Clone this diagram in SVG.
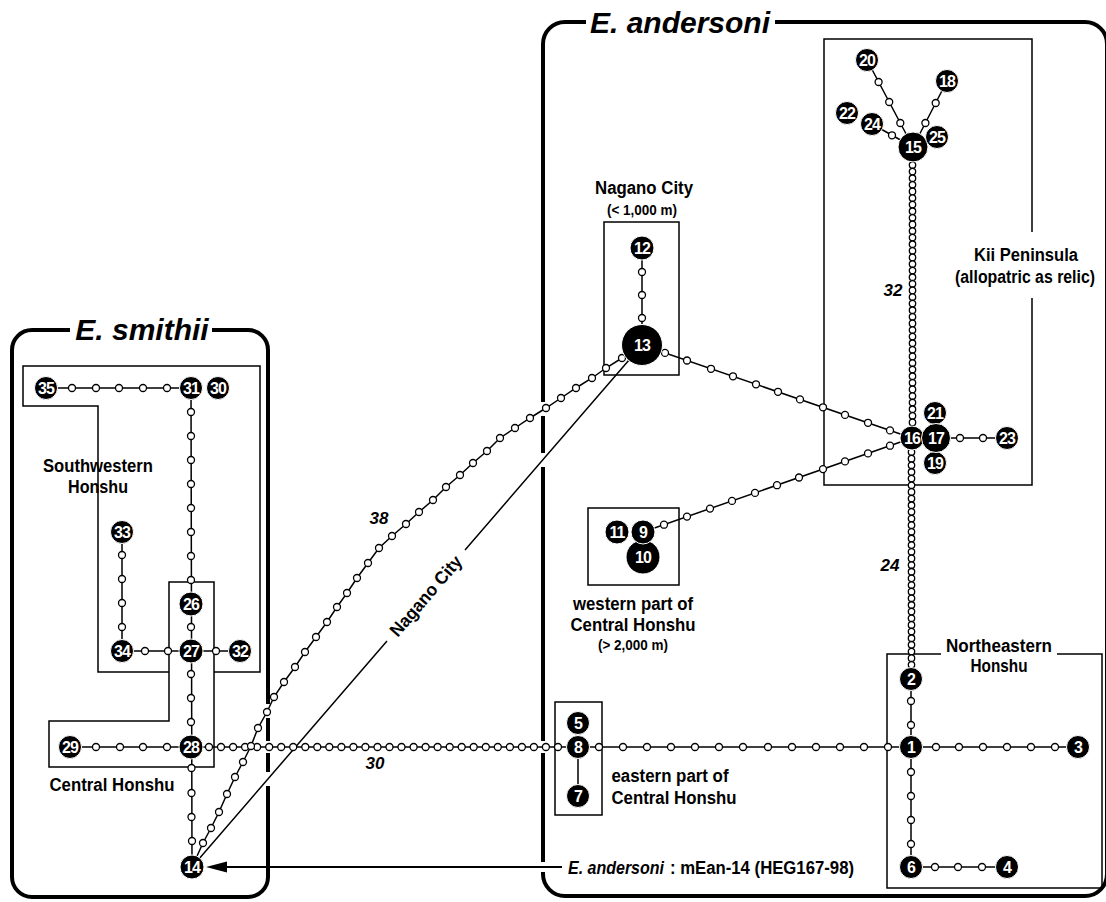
<svg xmlns="http://www.w3.org/2000/svg" width="1106" height="902" viewBox="0 0 1106 902">
<style>
.box{fill:none;stroke:#000;stroke-width:4}
.reg{fill:none;stroke:#000;stroke-width:1.5}
.ln{fill:none;stroke:#000;stroke-width:1.5}
.s{fill:#fff;stroke:#000;stroke-width:1.3}
.gap{fill:#fff}
.n circle{fill:#000;stroke:#fff;stroke-width:1}
.n text{fill:#fff;font-family:"Liberation Sans",Arial,sans-serif;font-weight:bold;font-size:16px;text-anchor:middle;letter-spacing:-0.9px}
.lab{font-family:"Liberation Sans",Arial,sans-serif;font-weight:bold;font-size:18px;text-anchor:middle;fill:#000}
.st{text-anchor:start}
.sm{font-size:14px}
.title{font-family:"Liberation Sans",Arial,sans-serif;font-weight:bold;font-style:italic;font-size:30px;text-anchor:middle}
.num{font-family:"Liberation Sans",Arial,sans-serif;font-weight:bold;font-style:italic;font-size:17px;text-anchor:middle}
</style>
<defs>
<circle id="s" r="3.5" class="s"/>
<circle id="d" r="3.2" class="s"/>
</defs>
<rect width="1106" height="902" fill="#fff"/>

<g id="species-boxes">
<path class="box" d="M70,330 H32 A20,20 0 0 0 12,350 V877 A20,20 0 0 0 32,897 H248 A20,20 0 0 0 268,877 V350 A20,20 0 0 0 248,330 H212"/>
<text class="title" x="142" y="340">E. smithii</text>
<path class="box" d="M586,22 H565 A22,22 0 0 0 543,44 V874 A22,22 0 0 0 565,896 H1085 A22,22 0 0 0 1107,874 V44 A22,22 0 0 0 1085,22 H775"/>
<text class="title" x="680" y="33">E. andersoni</text>
<rect class="gap" x="265" y="741" width="6" height="12"/>
<rect class="gap" x="265" y="704" width="6" height="14"/>
<rect class="gap" x="265" y="772" width="6" height="14"/>
<rect class="gap" x="540" y="741" width="6" height="12"/>
<rect class="gap" x="540" y="402" width="6" height="14"/>
<rect class="gap" x="540" y="453" width="6" height="14"/>
<rect class="gap" x="540" y="862" width="6" height="10"/>
</g>

<g id="regions">
<path class="reg" d="M169,672 H98 V406 H23 V366 H260 V672 H214"/>
<path class="reg" d="M169,582 H214 V767 H49 V721 H169 Z"/>
<rect class="reg" x="604" y="222" width="75" height="153"/>
<rect class="reg" x="588" y="508" width="91" height="77"/>
<path class="reg" d="M1032,232 V39 H824 V485 H1032 V298"/>
<rect class="reg" x="555" y="702" width="47" height="113"/>
<path class="reg" d="M941,654 H887 V888 H1102 V654 H1057"/>
</g>

<g id="connectors">
<path class="ln" d="M46,388 H191 M191,388 L192,867 M122,532 V651 M122,651 H240 M70,747 H1078 M578,747 V796 M642,248 V345 M642,345 L912,438 M643,532 L912,438 M913,147 L912,438 L911,679 V867 M911,867 H1007 M936,438 H1007 M867,60 L913,147 M947,81 L913,147 M872,124 L913,147"/>
<polyline class="ln" points="192,867 203,843 211,828 219,812 227,794 235,777 243,762 251,746 258,728 267,712 274,697 284,682 295,667 305,652 316,637 327,622 337,607 347,593 357,578 368,563 379,548 392,536 406,524 419,512 433,500 446,487 460,475 473,463 487,451 500,438 515,428 530,418 546,408 561,398 576,388 592,378 606,368 622,358 642,345"/>
<path class="ln" d="M192,867 L387,641 M465,550 L642,345"/>
<text class="lab" transform="translate(426,596) rotate(-49.2)" y="6" textLength="100" lengthAdjust="spacingAndGlyphs">Nagano City</text>
<line x1="562" y1="867" x2="222" y2="867" stroke="#000" stroke-width="2"/>
<polygon points="206,867 227,861.5 227,872.5" fill="#000"/>

<g id="intermediates">
<use href="#s" x="72" y="388"/><use href="#s" x="96" y="388"/><use href="#s" x="119" y="388"/><use href="#s" x="143" y="388"/><use href="#s" x="167" y="388"/>
<use href="#s" x="191" y="412"/><use href="#s" x="191" y="436"/><use href="#s" x="191" y="460"/><use href="#s" x="191" y="484"/><use href="#s" x="191" y="508"/><use href="#s" x="191" y="532"/><use href="#s" x="191" y="556"/><use href="#s" x="191" y="580"/>
<use href="#s" x="191" y="627"/>
<use href="#s" x="122" y="555"/><use href="#s" x="122" y="579"/><use href="#s" x="122" y="603"/><use href="#s" x="122" y="627"/>
<use href="#s" x="145" y="651"/><use href="#s" x="168" y="651"/><use href="#s" x="216" y="651"/>
<use href="#s" x="191" y="674"/><use href="#s" x="191" y="698"/><use href="#s" x="191" y="722"/>
<use href="#s" x="96" y="747"/><use href="#s" x="120" y="747"/><use href="#s" x="143" y="747"/><use href="#s" x="167" y="747"/>
<use href="#s" x="191.5" y="768"/><use href="#s" x="191.5" y="793"/><use href="#s" x="191.5" y="817"/><use href="#s" x="192" y="841"/>
<use href="#s" x="209" y="747"/><use href="#s" x="221" y="747"/><use href="#s" x="233.1" y="747"/><use href="#s" x="245.1" y="747"/><use href="#s" x="257.1" y="747"/><use href="#s" x="269.2" y="747"/><use href="#s" x="281.2" y="747"/><use href="#s" x="293.2" y="747"/><use href="#s" x="305.3" y="747"/><use href="#s" x="317.3" y="747"/><use href="#s" x="329.3" y="747"/><use href="#s" x="341.4" y="747"/><use href="#s" x="353.4" y="747"/><use href="#s" x="365.4" y="747"/><use href="#s" x="377.5" y="747"/><use href="#s" x="389.5" y="747"/><use href="#s" x="401.5" y="747"/><use href="#s" x="413.6" y="747"/><use href="#s" x="425.6" y="747"/><use href="#s" x="437.6" y="747"/><use href="#s" x="449.7" y="747"/><use href="#s" x="461.7" y="747"/><use href="#s" x="473.7" y="747"/><use href="#s" x="485.8" y="747"/><use href="#s" x="497.8" y="747"/><use href="#s" x="509.9" y="747"/><use href="#s" x="521.9" y="747"/><use href="#s" x="533.9" y="747"/><use href="#s" x="545.9" y="747"/><use href="#s" x="558" y="747"/>
<use href="#s" x="599" y="747"/><use href="#s" x="623" y="747"/><use href="#s" x="647" y="747"/><use href="#s" x="671" y="747"/><use href="#s" x="695" y="747"/><use href="#s" x="719" y="747"/><use href="#s" x="743" y="747"/><use href="#s" x="768" y="747"/><use href="#s" x="792" y="747"/><use href="#s" x="816" y="747"/><use href="#s" x="840" y="747"/><use href="#s" x="864" y="747"/><use href="#s" x="888" y="747"/>
<use href="#s" x="936" y="747"/><use href="#s" x="959" y="747"/><use href="#s" x="983" y="747"/><use href="#s" x="1007" y="747"/><use href="#s" x="1031" y="747"/><use href="#s" x="1055" y="747"/>
<use href="#s" x="911" y="701"/><use href="#s" x="911" y="725"/>
<use href="#s" x="911" y="772"/><use href="#s" x="911" y="796"/><use href="#s" x="911" y="820"/><use href="#s" x="911" y="844"/>
<use href="#s" x="935" y="867"/><use href="#s" x="958" y="867"/><use href="#s" x="982" y="867"/>
<use href="#s" x="642" y="272"/><use href="#s" x="642" y="295"/><use href="#s" x="642" y="318"/>
<use href="#s" x="665" y="352.9"/><use href="#s" x="687" y="360.5"/><use href="#s" x="711" y="368.8"/><use href="#s" x="733" y="376.3"/><use href="#s" x="756" y="384.3"/><use href="#s" x="778" y="391.8"/><use href="#s" x="800" y="399.4"/><use href="#s" x="823" y="407.3"/><use href="#s" x="845" y="414.9"/><use href="#s" x="868" y="422.8"/><use href="#s" x="890" y="430.4"/>
<use href="#s" x="664" y="524.7"/><use href="#s" x="687" y="516.6"/><use href="#s" x="710" y="508.6"/><use href="#s" x="732" y="500.9"/><use href="#s" x="755" y="492.9"/><use href="#s" x="777" y="485.2"/><use href="#s" x="799" y="477.5"/><use href="#s" x="823" y="469.1"/><use href="#s" x="845" y="461.4"/><use href="#s" x="868" y="453.4"/><use href="#s" x="890" y="445.7"/>
<use href="#s" x="960" y="438"/><use href="#s" x="983" y="438"/>
<use href="#s" x="878.6" y="82"/><use href="#s" x="889.2" y="102"/><use href="#s" x="900.3" y="123"/>
<use href="#s" x="935.7" y="103"/><use href="#s" x="925.4" y="123"/>
<use href="#s" x="892" y="135.3"/>
<use href="#s" x="203" y="843"/><use href="#s" x="211" y="828"/><use href="#s" x="219" y="812"/><use href="#s" x="227" y="794"/><use href="#s" x="235" y="777"/><use href="#s" x="243" y="762"/><use href="#s" x="251" y="746"/><use href="#s" x="258" y="728"/><use href="#s" x="267" y="712"/><use href="#s" x="274" y="697"/><use href="#s" x="284" y="682"/><use href="#s" x="295" y="667"/><use href="#s" x="305" y="652"/><use href="#s" x="316" y="637"/><use href="#s" x="327" y="622"/><use href="#s" x="337" y="607"/><use href="#s" x="347" y="593"/><use href="#s" x="357" y="578"/><use href="#s" x="368" y="563"/><use href="#s" x="379" y="548"/><use href="#s" x="392" y="536"/><use href="#s" x="406" y="524"/><use href="#s" x="419" y="512"/><use href="#s" x="433" y="500"/><use href="#s" x="446" y="487"/><use href="#s" x="460" y="475"/><use href="#s" x="473" y="463"/><use href="#s" x="487" y="451"/><use href="#s" x="500" y="438"/><use href="#s" x="515" y="428"/><use href="#s" x="530" y="418"/><use href="#s" x="546" y="408"/><use href="#s" x="561" y="398"/><use href="#s" x="576" y="388"/><use href="#s" x="592" y="378"/><use href="#s" x="606" y="368"/><use href="#s" x="622" y="358"/>
<use href="#d" x="912.5" y="165"/><use href="#d" x="912.5" y="171.6"/><use href="#d" x="912.5" y="178.2"/><use href="#d" x="912.5" y="184.8"/><use href="#d" x="912.5" y="191.4"/><use href="#d" x="912.5" y="198"/><use href="#d" x="912.5" y="204.6"/><use href="#d" x="912.5" y="211.2"/><use href="#d" x="912.5" y="217.8"/><use href="#d" x="912.5" y="224.4"/><use href="#d" x="912.5" y="231"/><use href="#d" x="912.5" y="237.6"/><use href="#d" x="912.5" y="244.2"/><use href="#d" x="912.5" y="250.8"/><use href="#d" x="912.5" y="257.4"/><use href="#d" x="912.5" y="264"/><use href="#d" x="912.5" y="270.6"/><use href="#d" x="912.5" y="277.2"/><use href="#d" x="912.5" y="283.8"/><use href="#d" x="912.5" y="290.4"/><use href="#d" x="912.5" y="297"/><use href="#d" x="912.5" y="303.6"/><use href="#d" x="912.5" y="310.2"/><use href="#d" x="912.5" y="316.8"/><use href="#d" x="912.5" y="323.4"/><use href="#d" x="912.5" y="330"/><use href="#d" x="912.5" y="336.6"/><use href="#d" x="912.5" y="343.2"/><use href="#d" x="912.5" y="349.8"/><use href="#d" x="912.5" y="356.4"/><use href="#d" x="912.5" y="363"/><use href="#d" x="912.5" y="369.6"/><use href="#d" x="912.5" y="376.2"/><use href="#d" x="912.5" y="382.8"/><use href="#d" x="912.5" y="389.4"/><use href="#d" x="912.5" y="396"/><use href="#d" x="912.5" y="402.6"/><use href="#d" x="912.5" y="409.2"/><use href="#d" x="912.5" y="415.8"/><use href="#d" x="912.5" y="422.4"/>
<use href="#d" x="911.5" y="452"/><use href="#d" x="911.5" y="458.65"/><use href="#d" x="911.5" y="465.3"/><use href="#d" x="911.5" y="471.95"/><use href="#d" x="911.5" y="478.6"/><use href="#d" x="911.5" y="485.25"/><use href="#d" x="911.5" y="491.9"/><use href="#d" x="911.5" y="498.55"/><use href="#d" x="911.5" y="505.2"/><use href="#d" x="911.5" y="511.85"/><use href="#d" x="911.5" y="518.5"/><use href="#d" x="911.5" y="525.15"/><use href="#d" x="911.5" y="531.8"/><use href="#d" x="911.5" y="538.45"/><use href="#d" x="911.5" y="545.1"/><use href="#d" x="911.5" y="551.75"/><use href="#d" x="911.5" y="558.4"/><use href="#d" x="911.5" y="565.05"/><use href="#d" x="911.5" y="571.7"/><use href="#d" x="911.5" y="578.35"/><use href="#d" x="911.5" y="585"/><use href="#d" x="911.5" y="591.65"/><use href="#d" x="911.5" y="598.3"/><use href="#d" x="911.5" y="604.95"/><use href="#d" x="911.5" y="611.6"/><use href="#d" x="911.5" y="618.25"/><use href="#d" x="911.5" y="624.9"/><use href="#d" x="911.5" y="631.55"/><use href="#d" x="911.5" y="638.2"/><use href="#d" x="911.5" y="644.85"/><use href="#d" x="911.5" y="651.5"/><use href="#d" x="911.5" y="658.15"/><use href="#d" x="911.5" y="664.8"/>
</g>
<text class="num" x="379" y="524">38</text>
<text class="num" x="375" y="769">30</text>
<text class="num" x="893" y="296">32</text>
<text class="num" x="890" y="571">24</text>
</g>

<g id="nodes">
<g id="n10" class="n"><circle cx="643" cy="557" r="17"/><text x="643" y="563">10</text></g>
<g id="n9" class="n"><circle cx="643" cy="532" r="12"/><text x="643" y="538">9</text></g>
<g id="n11" class="n"><circle cx="617" cy="532" r="12"/><text x="617" y="538">11</text></g>
<g id="n1" class="n"><circle cx="911" cy="747" r="11.5"/><text x="911" y="753">1</text></g>
<g id="n2" class="n"><circle cx="911" cy="679" r="11.5"/><text x="911" y="685">2</text></g>
<g id="n3" class="n"><circle cx="1078" cy="747" r="11.5"/><text x="1078" y="753">3</text></g>
<g id="n4" class="n"><circle cx="1007" cy="867" r="11.5"/><text x="1007" y="873">4</text></g>
<g id="n6" class="n"><circle cx="911" cy="867" r="11.5"/><text x="911" y="873">6</text></g>
<g id="n8" class="n"><circle cx="578" cy="747" r="11.5"/><text x="578" y="753">8</text></g>
<g id="n5" class="n"><circle cx="578" cy="723" r="11.5"/><text x="578" y="729">5</text></g>
<g id="n7" class="n"><circle cx="578" cy="796" r="11.5"/><text x="578" y="802">7</text></g>
<g id="n12" class="n"><circle cx="642" cy="248" r="12"/><text x="642" y="254">12</text></g>
<g id="n13" class="n"><circle cx="642" cy="345" r="20.5"/><text x="642" y="351">13</text></g>
<g id="n14" class="n"><circle cx="192" cy="867" r="12"/><text x="192" y="873">14</text></g>
<g id="n15" class="n"><circle cx="913" cy="147" r="15"/><text x="913" y="153">15</text></g>
<g id="n25" class="n"><circle cx="937" cy="137" r="11.5"/><text x="937" y="143">25</text></g>
<g id="n20" class="n"><circle cx="867" cy="60" r="11.5"/><text x="867" y="66">20</text></g>
<g id="n18" class="n"><circle cx="947" cy="81" r="11.5"/><text x="947" y="87">18</text></g>
<g id="n22" class="n"><circle cx="847" cy="113" r="11.5"/><text x="847" y="119">22</text></g>
<g id="n24" class="n"><circle cx="872" cy="124" r="11.5"/><text x="872" y="130">24</text></g>
<g id="n21" class="n"><circle cx="935" cy="413" r="11.5"/><text x="935" y="419">21</text></g>
<g id="n19" class="n"><circle cx="935" cy="463" r="11.5"/><text x="935" y="469">19</text></g>
<g id="n16" class="n"><circle cx="912" cy="438" r="12"/><text x="912" y="444">16</text></g>
<g id="n17" class="n"><circle cx="936" cy="438" r="14.5"/><text x="936" y="444">17</text></g>
<g id="n23" class="n"><circle cx="1007" cy="438" r="11.5"/><text x="1007" y="444">23</text></g>
<g id="n26" class="n"><circle cx="191" cy="604" r="12"/><text x="191" y="610">26</text></g>
<g id="n27" class="n"><circle cx="191" cy="651" r="12"/><text x="191" y="657">27</text></g>
<g id="n28" class="n"><circle cx="191" cy="747" r="12"/><text x="191" y="753">28</text></g>
<g id="n29" class="n"><circle cx="70" cy="747" r="11.5"/><text x="70" y="753">29</text></g>
<g id="n31" class="n"><circle cx="191" cy="388" r="11.5"/><text x="191" y="394">31</text></g>
<g id="n30" class="n"><circle cx="218" cy="388" r="11.5"/><text x="218" y="394">30</text></g>
<g id="n32" class="n"><circle cx="240" cy="651" r="11.5"/><text x="240" y="657">32</text></g>
<g id="n33" class="n"><circle cx="122" cy="532" r="11.5"/><text x="122" y="538">33</text></g>
<g id="n34" class="n"><circle cx="122" cy="651" r="11.5"/><text x="122" y="657">34</text></g>
<g id="n35" class="n"><circle cx="46" cy="388" r="11.5"/><text x="46" y="394">35</text></g>
</g>

<g id="labels">
<text class="lab" x="98" y="472" textLength="110" lengthAdjust="spacingAndGlyphs">Southwestern</text>
<text class="lab" x="98" y="493" textLength="60" lengthAdjust="spacingAndGlyphs">Honshu</text>
<text class="lab" x="112" y="791" textLength="125" lengthAdjust="spacingAndGlyphs">Central Honshu</text>
<text class="lab" x="644" y="194" textLength="98" lengthAdjust="spacingAndGlyphs">Nagano City</text>
<text class="lab sm" x="642" y="215" textLength="70" lengthAdjust="spacingAndGlyphs">(&lt; 1,000 m)</text>
<text class="lab" x="1026" y="261" textLength="104" lengthAdjust="spacingAndGlyphs">Kii Peninsula</text>
<text class="lab" x="1025" y="283" textLength="140" lengthAdjust="spacingAndGlyphs">(allopatric as relic)</text>
<text class="lab" x="633" y="610" textLength="120" lengthAdjust="spacingAndGlyphs">western part of</text>
<text class="lab" x="633" y="631" textLength="125" lengthAdjust="spacingAndGlyphs">Central Honshu</text>
<text class="lab sm" x="633" y="650" textLength="70" lengthAdjust="spacingAndGlyphs">(&gt; 2,000 m)</text>
<text class="lab" x="670" y="782" textLength="117" lengthAdjust="spacingAndGlyphs">eastern part of</text>
<text class="lab" x="674" y="804" textLength="125" lengthAdjust="spacingAndGlyphs">Central Honshu</text>
<text class="lab" x="999" y="652" textLength="106" lengthAdjust="spacingAndGlyphs">Northeastern</text>
<text class="lab" x="999" y="672" textLength="57" lengthAdjust="spacingAndGlyphs">Honshu</text>
<text class="lab st" x="568" y="874" font-style="italic" textLength="96" lengthAdjust="spacingAndGlyphs">E. andersoni</text>
<text class="lab st" x="670" y="874" textLength="184" lengthAdjust="spacingAndGlyphs">: mEan-14 (HEG167-98)</text>
</g>
</svg>
